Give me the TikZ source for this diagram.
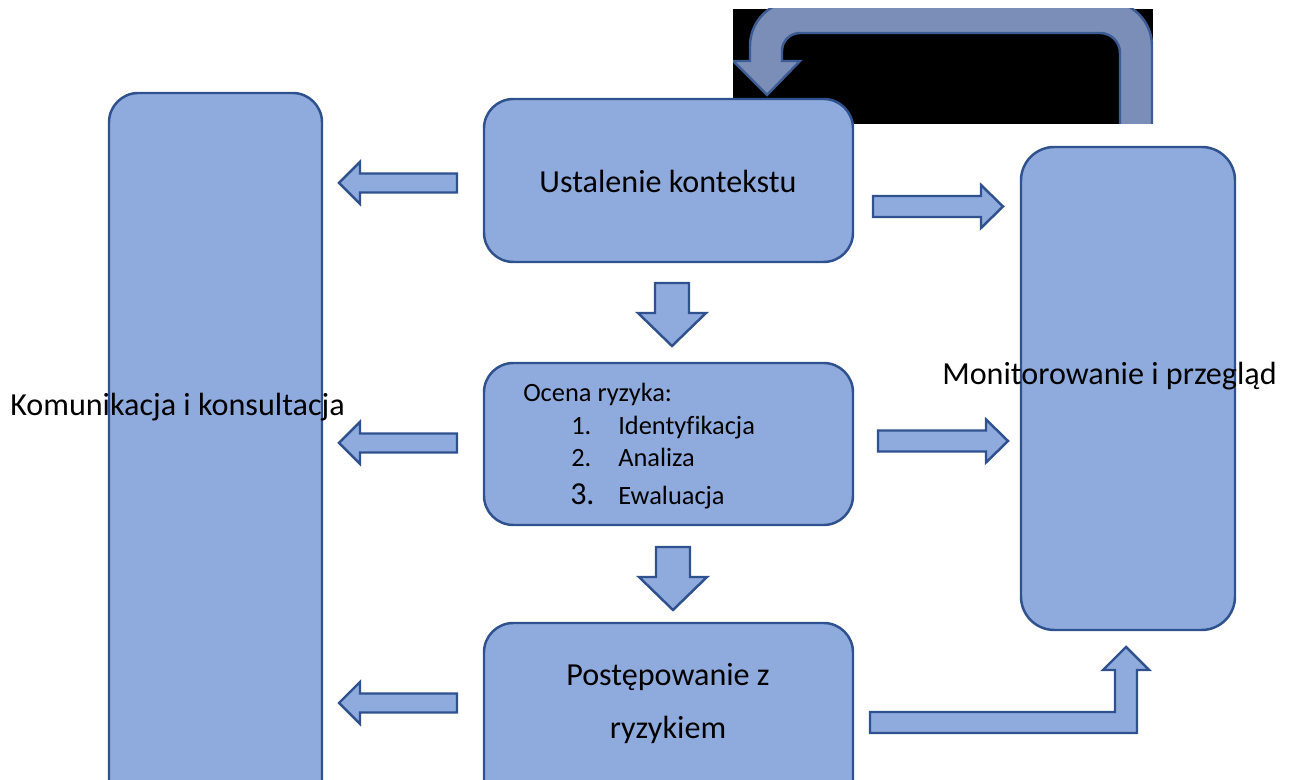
\documentclass[tikz,border=0pt]{standalone}
\usepackage{fontspec}
\setmainfont{Carlito}[Ligatures=NoCommon]
\definecolor{boxfill}{HTML}{8FAADC}
\definecolor{boxline}{HTML}{2F528F}
\definecolor{ufill}{HTML}{7B8EB8}
\definecolor{uline}{HTML}{3E5C94}
\tikzset{
  box/.style={draw=boxline, fill=boxfill, line width=1.85pt},
  blk/.style={draw=boxline, fill=boxfill, line width=1.85pt, line join=miter},
  uarr/.style={draw=uline, fill=ufill, line width=1.85pt},
  big/.style={font=\fontsize{24.1}{28}\selectfont, inner sep=0pt, text=black},
  small/.style={font=\fontsize{19.8}{24}\selectfont, inner sep=0pt, text=black},
  larr/.pic={\path[blk] (0,0) -- (21,21) -- (21,9.5) -- (118,9.5) -- (118,-9.5) -- (21,-9.5) -- (21,-21) -- cycle;},
  rarr/.pic={\path[blk] (0,0) -- (-22,21.5) -- (-22,10.5) -- (-130,10.5) -- (-130,-10.5) -- (-22,-10.5) -- (-22,-21.5) -- cycle;},
  darr/.pic={\path[blk] (0,0) -- (-34,33) -- (-17,33) -- (-17,63) -- (17,63) -- (17,33) -- (34,33) -- cycle;}
}
\begin{document}
\begin{tikzpicture}[x=0.75pt,y=0.75pt]
\useasboundingbox (0,0) rectangle (1289,780);
\clip (0,0) rectangle (1289,780);
% black background of the loop arrow
\fill[black] (733,656) rectangle (1153,771);
\begin{scope}
\clip (733,656) rectangle (1153,771);
\path[uarr] (1152,640) -- (1152,734) arc[start angle=0,end angle=90,radius=45] -- (795,779) arc[start angle=90,end angle=180,radius=45] -- (750,719) -- (733,719) -- (767,685) -- (800,719) -- (782,719) -- (782,729) arc[start angle=180,end angle=90,radius=18] -- (1100,747) arc[start angle=90,end angle=0,radius=20] -- (1120,640) -- cycle;
\end{scope}
% side columns
\path[box, rounded corners=22pt] (109,-40) rectangle (322,687);
\path[box, rounded corners=25pt] (1021,150) rectangle (1235,633);
% middle boxes
\path[box, rounded corners=22pt] (484,518) rectangle (853,681);
\path[box, rounded corners=22pt] (484,255) rectangle (853,417);
\path[box, rounded corners=22pt] (484,-40) rectangle (853,157);
% block arrows
\pic at (339,597) {larr};
\pic at (339,337) {larr};
\pic at (339,77) {larr};
\pic at (1003,573.5) {rarr};
\pic at (1008,339) {rarr};
\pic at (672,434) {darr};
\pic at (673,170) {darr};
\path[blk] (870,47) -- (1137,47) -- (1137,110) -- (1149,110) -- (1126,133) -- (1103,110) -- (1115,110) -- (1115,68) -- (870,68) -- cycle;
% texts
\node[big, anchor=base] (ctx) at (668,587) {Ustalenie kontekstu};
\node[small, anchor=base west] (ocena) at (523,378.3) {Ocena ryzyka:};
\node[small, anchor=base west] (n1) at (571,345) {1.};
\node[small, anchor=base west] (t1) at (618,345) {Identyfikacja};
\node[small, anchor=base west] (n2) at (571,313.3) {2.};
\node[small, anchor=base west] (t2) at (618,313.3) {Analiza};
\node[small, anchor=base west, font=\fontsize{24}{28}\selectfont] (n3) at (570,275) {3.};
\node[small, anchor=base west] (t3) at (618,275) {Ewaluacja};
\node[big, anchor=base] (post1) at (668,94) {Postępowanie z};
\node[big, anchor=base] (post2) at (668,41) {ryzykiem};
\node[big, anchor=base west] (kom) at (10,364.3) {Komunikacja i konsultacja};
\node[big, anchor=base west] (mon) at (942,395) {Monitorowanie i przegląd};
\end{tikzpicture}
\end{document}
